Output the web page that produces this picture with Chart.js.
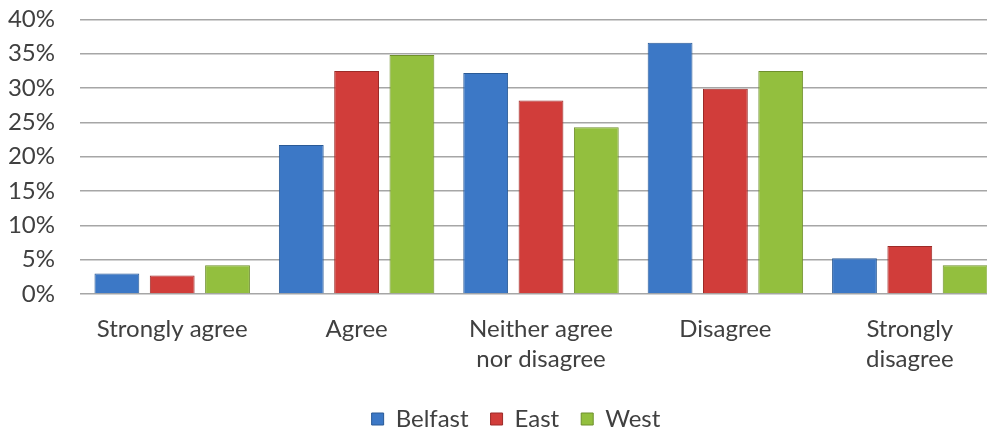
<!DOCTYPE html>
<html>
<head>
<meta charset="utf-8">
<script src="https://cdn.jsdelivr.net/npm/chart.js@4/dist/chart.umd.min.js"></script>
<style>
    html, body { margin: 0; padding: 0; background: #fff; overflow: hidden; }
    #wrap { width: 1002px; height: 431px; }
</style>
</head>
<body>
<div id="wrap"><canvas id="chart"></canvas></div>
<script>
// Data
var categories = [['Strongly agree'], ['Agree'], ['Neither agree', 'nor disagree'], ['Disagree'], ['Strongly', 'disagree']];
var belfast = [3.0, 21.7, 32.2, 36.6, 5.2];
var east = [2.7, 32.5, 28.2, 29.9, 7.0];
var west = [4.2, 34.8, 24.3, 32.5, 4.2];
var yTicks = [0, 5, 10, 15, 20, 25, 30, 35, 40];

Chart.defaults.font.family = 'Lato, "Open Sans", sans-serif';
Chart.defaults.color = '#404040';

function bar(label, data, color, border) {
    return {
        label: label,
        data: data,
        backgroundColor: color,
        borderColor: border,
        borderWidth: 1,
        categoryPercentage: 0.9,
        barPercentage: 0.81
    };
}

// nudge the legend a bit right (and back up), like the original
var legendShift = {
    id: 'legendShift',
    afterLayout: function (chart) {
        var lg = chart.legend;
        lg.left += 15; lg.right += 15;
        lg.top -= 9; lg.bottom -= 9;
    }
};

var ctx = document.getElementById('chart');
var myBarChart = new Chart(ctx, {
    type: 'bar',
    data: {
        labels: categories,
        datasets: [
            bar('Belfast', belfast, '#3c78c6', '#2a5a96'),
            bar('East', east, '#d13d3a', '#9c2b28'),
            bar('West', west, '#93bf3e', '#6e8f2c')
        ]
    },
    options: {
        responsive: true,
        maintainAspectRatio: false,
        animation: false,
        layout: { padding: { top: 0, right: 0, left: 0, bottom: -19 } },
        plugins: {
            legend: {
                position: 'bottom',
                labels: {
                    boxWidth: 12,
                    boxHeight: 12,
                    padding: 22,
                    font: { size: 24 },
                    color: '#404040'
                }
            },
            tooltip: { enabled: false }
        },
        scales: {
            x: {
                grid: { display: false, drawTicks: false },
                border: { display: false },
                ticks: {
                    maxRotation: 0,
                    autoSkip: false,
                    padding: 20,
                    font: { size: 24, lineHeight: 1.25 },
                    color: '#404040'
                }
            },
            y: {
                min: 0,
                max: 40,
                afterBuildTicks: function (axis) {
                    axis.ticks = yTicks.map(function (v) { return { value: v }; });
                },
                afterFit: function (axis) { axis.width = 80; },
                grid: { color: '#a6a6a6', lineWidth: 1.5, drawTicks: true, tickLength: 20, tickColor: 'rgba(0,0,0,0)' },
                border: { display: false },
                ticks: {
                    padding: 5,
                    font: { size: 24 },
                    color: '#404040',
                    callback: function (v) { return v + '%'; }
                }
            }
        }
    },
    plugins: [legendShift]
});
</script>
</body>
</html>
